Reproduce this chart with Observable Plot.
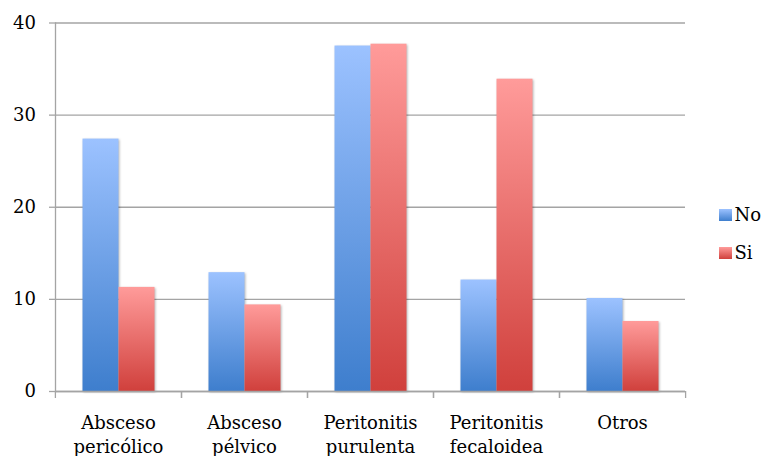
<!DOCTYPE html>
<html>
<head>
<meta charset="utf-8">
<script src="https://cdn.jsdelivr.net/npm/d3@7"></script>
<script src="https://cdn.jsdelivr.net/npm/@observablehq/plot@0.6"></script>
<style>
  body { margin: 0; background: #fff; font-family: "DejaVu Serif", serif; }
  #chart { position: relative; width: 763px; height: 456px; }
  .legend { position: absolute; left: 719px; top: 205px; font-size: 18px; color: #000; line-height: 1; }
  .legend .item { display: flex; align-items: center; height: 20px; margin-bottom: 18px; }
  .legend .sw { width: 12.5px; height: 12.5px; margin-right: 3px; }
</style>
</head>
<body>
<div id="chart"></div>
<script>
// Categorías del eje X y valores de cada serie
const categories = ["Absceso pericólico", "Absceso pélvico", "Peritonitis purulenta", "Peritonitis fecaloidea", "Otros"];
const series = ["No", "Si"];
const valuesNo = [27.4, 12.9, 37.5, 12.1, 10.1];
const valuesSi = [11.3, 9.4, 37.7, 33.9, 7.6];
const yTicks = [0, 10, 20, 30, 40];

// Degradado vertical de cada serie: [arriba, abajo]
const seriesGradients = { No: ["#9cc2ff", "#3e7ecd"], Si: ["#ff9b9a", "#d0403c"] };

const data = categories.flatMap((c, i) => [
  { categoria: c, grupo: "No", valor: valuesNo[i] },
  { categoria: c, grupo: "Si", valor: valuesSi[i] }
]);

const gridColor = "#a4a4a4";

const plot = Plot.plot({
  width: 763,
  height: 456,
  marginLeft: 54.5,
  marginRight: 78,
  marginTop: 22.5,
  marginBottom: 65,
  style: { fontFamily: "DejaVu Serif", fontSize: "18px", color: "#000", background: "#fff", overflow: "visible" },
  fx: { domain: categories, padding: 0, label: null },
  x: { domain: series, paddingInner: 0, paddingOuter: 0.73, axis: null },
  y: { domain: [0, 40], label: null },
  color: { domain: series, range: series.map(s => `url(#grad-${s})`) },
  marks: [
    Plot.gridY(yTicks, { stroke: gridColor, strokeOpacity: 1, strokeWidth: 1.3 }),
    Plot.barY(data, {
      fx: "categoria", x: "grupo", y: "valor", fill: "grupo",
      imageFilter: "drop-shadow(1.5px 1.5px 1.2px rgba(0,0,0,0.28))"
    }),
    Plot.ruleY([0], { stroke: gridColor, strokeWidth: 1.3 }),
    Plot.frame({ anchor: "left", facetAnchor: "left", stroke: gridColor, strokeWidth: 1.3 }),
    Plot.axisY(yTicks, { tickSize: 6, tickPadding: 13.5, stroke: gridColor, strokeWidth: 1.3, fill: "#000" }),
    // marcas del eje X en los límites entre categorías
    Plot.axisFx({ anchor: "bottom", text: null, tickSize: 7, dx: -63.1, stroke: gridColor, strokeWidth: 1.3 }),
    Plot.axisFx([categories[categories.length - 1]], { anchor: "bottom", text: null, tickSize: 7, dx: 63.1, stroke: gridColor, strokeWidth: 1.3 }),
    Plot.axisFx({
      anchor: "bottom", tickSize: 0, tickPadding: 21, lineHeight: 1.3, fill: "#000",
      tickFormat: c => c.replace(" ", "\n")
    })
  ]
});

// Definición de los degradados usados por las barras
const defs = d3.create("svg:defs");
for (const s of series) {
  const lg = defs.append("linearGradient")
    .attr("id", `grad-${s}`).attr("x1", 0).attr("y1", 0).attr("x2", 0).attr("y2", 1);
  lg.append("stop").attr("offset", "0%").attr("stop-color", seriesGradients[s][0]);
  lg.append("stop").attr("offset", "100%").attr("stop-color", seriesGradients[s][1]);
}
plot.insertBefore(defs.node(), plot.firstChild);

const chart = document.getElementById("chart");
chart.appendChild(plot);

// Leyenda a la derecha
const legend = d3.select(chart).append("div").attr("class", "legend");
for (const s of series) {
  const item = legend.append("div").attr("class", "item");
  item.append("div").attr("class", "sw")
    .style("background", `linear-gradient(${seriesGradients[s][0]}, ${seriesGradients[s][1]})`);
  item.append("span").text(s);
}
</script>
</body>
</html>
